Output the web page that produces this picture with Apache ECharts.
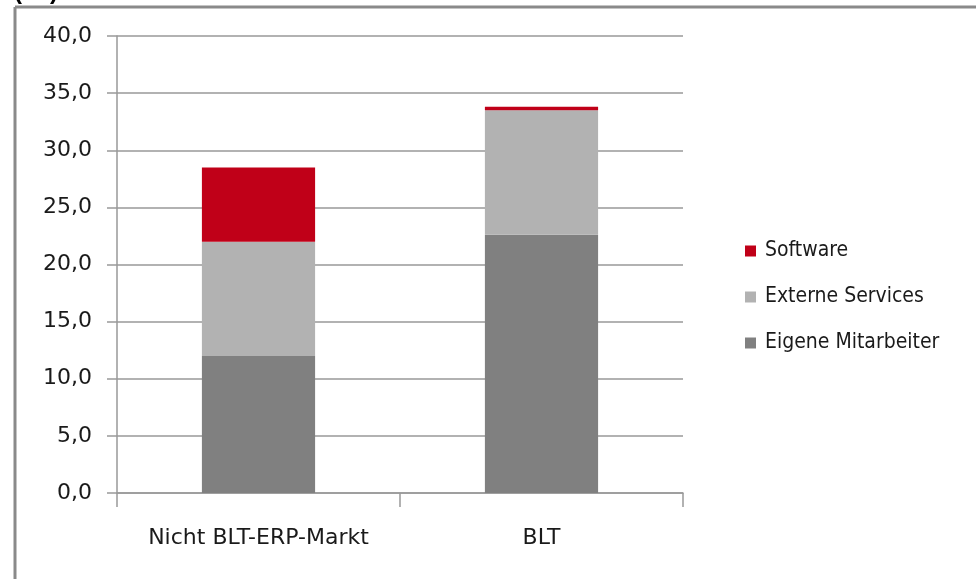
<!DOCTYPE html>
<html><head><meta charset="utf-8">
<script src="https://cdn.jsdelivr.net/npm/echarts@6/dist/echarts.min.js"></script>
<style>html,body{margin:0;padding:0;background:#fff}#c{width:976px;height:579px}</style>
</head><body><div id="c"></div>
<script>
const categories = ['Nicht BLT-ERP-Markt', 'BLT'];
const eigeneMitarbeiter = [12.0, 22.6];
const externeServices = [10.0, 10.9];
const software = [6.5, 0.3];
const yTicks = [0, 5, 10, 15, 20, 25, 30, 35, 40];

const chart = echarts.init(document.getElementById('c'), null, {renderer: 'canvas'});
const font = '"DejaVu Sans", sans-serif';
chart.setOption({
  animation: false,
  backgroundColor: '#fff',
  graphic: [
    {type: 'line', shape: {x1: 15, y1: 7, x2: 976, y2: 7}, style: {stroke: '#8a8a8a', lineWidth: 3}},
    {type: 'line', shape: {x1: 15, y1: 7, x2: 15, y2: 579}, style: {stroke: '#8a8a8a', lineWidth: 3}},
    {type: 'text', left: 14, top: -20, style: {text: '(T€)', font: 'bold 24px Arial', fill: '#000'}}
  ],
  grid: {left: 117, right: 293, top: 36, bottom: 86, containLabel: false},
  legend: {
    orient: 'vertical', left: 740, top: 234, itemGap: 22, itemWidth: 11, itemHeight: 11,
    icon: 'rect',
    data: ['Software', 'Externe Services', 'Eigene Mitarbeiter'],
    textStyle: {fontFamily: '"DejaVu Sans Condensed", "DejaVu Sans", sans-serif', fontSize: 21, lineHeight: 24, color: '#1a1a1a', padding: [0, 0, 0, 4]}
  },
  xAxis: {
    type: 'category', data: categories,
    axisLine: {lineStyle: {color: '#999', width: 1.5}},
    axisTick: {show: true, interval: 0, length: 14, lineStyle: {color: '#999', width: 1.5}},
    axisLabel: {interval: 0, hideOverlap: false, fontFamily: font, fontSize: 22, color: '#1a1a1a', margin: 34}
  },
  yAxis: {
    type: 'value', min: 0, max: 40, interval: 5,
    axisLine: {show: true, lineStyle: {color: '#999', width: 1.5}},
    axisTick: {show: true, length: 10, lineStyle: {color: '#999', width: 1.5}},
    splitLine: {lineStyle: {color: '#999', width: 1.5}},
    axisLabel: {fontFamily: font, fontSize: 22, color: '#1a1a1a', margin: 25,
      formatter: v => yTicks.includes(v) ? v.toFixed(1).replace('.', ',') : ''}
  },
  series: [
    {name: 'Eigene Mitarbeiter', type: 'bar', stack: 't', data: eigeneMitarbeiter, barWidth: '40%', itemStyle: {color: '#808080'}},
    {name: 'Externe Services', type: 'bar', stack: 't', data: externeServices, itemStyle: {color: '#b2b2b2'}},
    {name: 'Software', type: 'bar', stack: 't', data: software, itemStyle: {color: '#c00018'}}
  ]
});
</script></body></html>
